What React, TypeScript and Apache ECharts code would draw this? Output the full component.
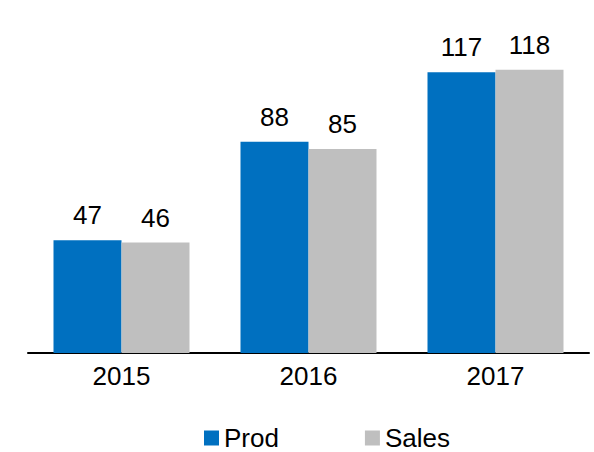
import React, { useEffect, useRef } from "react";
import * as echarts from "echarts";

const categories = ["2015", "2016", "2017"];
const prodValues = [47, 88, 117];
const salesValues = [46, 85, 118];
const seriesNames = ["Prod", "Sales"];

const FONT = "'Liberation Sans', Arial, sans-serif";

export default function App() {
  const ref = useRef<HTMLDivElement>(null);
  useEffect(() => {
    if (!ref.current) return;
    const chart = echarts.init(ref.current, null, { renderer: "svg" });
    const label = {
      show: true,
      position: "top",
      distance: 12,
      color: "#000",
      fontSize: 26,
      fontFamily: FONT,
    };
    chart.setOption({
      animation: false,
      backgroundColor: "#fff",
      grid: { left: 28, right: 5, top: 17, bottom: 99 },
      legend: {
        data: seriesNames,
        left: 204,
        top: 425,
        padding: 0,
        itemWidth: 15,
        itemHeight: 15,
        itemGap: 86,
        icon: "rect",
        textStyle: { fontSize: 26, lineHeight: 22, fontFamily: FONT, color: "#000" },
      },
      xAxis: {
        type: "category",
        data: categories,
        axisLine: { lineStyle: { color: "#000", width: 2 } },
        axisTick: { show: false },
        axisLabel: { fontSize: 26, fontFamily: FONT, color: "#000", margin: 10 },
      },
      yAxis: {
        type: "value",
        min: 0,
        max: 140,
        show: false,
        splitLine: { show: false },
      },
      series: [
        {
          name: seriesNames[0],
          type: "bar",
          data: prodValues,
          barWidth: 68,
          barGap: "0%",
          itemStyle: { color: "#0070C0" },
          label,
        },
        {
          name: seriesNames[1],
          type: "bar",
          data: salesValues,
          barWidth: 68,
          barGap: "0%",
          itemStyle: { color: "#BFBFBF" },
          label,
        },
      ],
    });
    return () => chart.dispose();
  }, []);
  return (
    <div
      ref={ref}
      style={{ position: "absolute", left: 0, top: 0, width: 594, height: 452 }}
    />
  );
}
